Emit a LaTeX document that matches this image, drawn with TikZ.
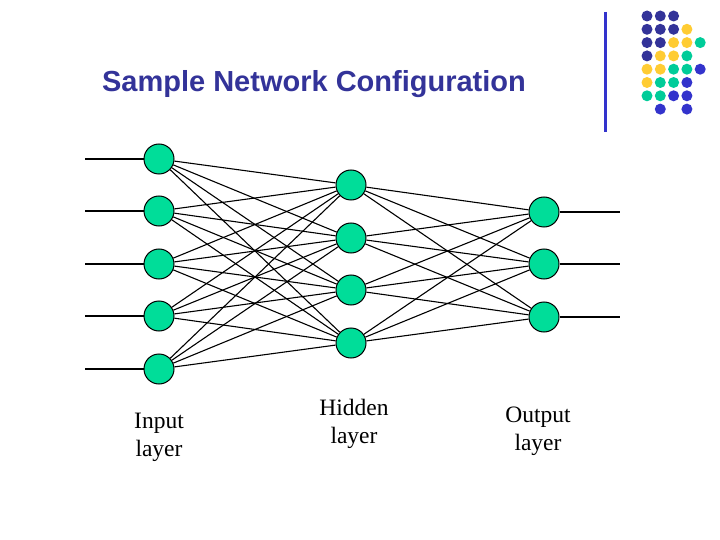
\documentclass[tikz,border=0pt]{standalone}
\usepackage{fontspec}
\setmainfont{Liberation Serif}
\newfontfamily\sansf{Liberation Sans}
\definecolor{navy}{HTML}{333399}
\definecolor{dblue}{HTML}{3333CC}
\definecolor{gold}{HTML}{FFCC33}
\definecolor{teal}{HTML}{00CC99}
\definecolor{nodeg}{HTML}{00DD99}
\begin{document}
\begin{tikzpicture}[x=1pt,y=-1pt,
  neuron/.style={circle,draw=black,fill=nodeg,minimum size=30pt,inner sep=0pt,line width=1pt},
  edge/.style={black,line width=1.1pt},
  lbl/.style={font=\fontsize{23.5}{28}\selectfont,align=center},
  dot/.style={circle,inner sep=0pt,minimum size=11pt}]
\useasboundingbox[fill=white] (0,0) rectangle (720,540);
\node[font=\sansf\bfseries\fontsize{29}{32}\selectfont,text=navy] (title) at (314,84) {Sample Network Configuration};
\draw[dblue,line width=3pt] (605,12) coordinate (v1) -- (605,132) coordinate (v2);
\def\nn{none}
\foreach \r/\row in {1/{navy,navy,navy,none,none},2/{navy,navy,navy,gold,none},3/{navy,navy,gold,gold,teal},4/{navy,gold,gold,teal,none},5/{gold,gold,teal,teal,dblue},6/{gold,teal,teal,dblue,none},7/{teal,teal,dblue,dblue,none},8/{none,dblue,none,dblue,none}}{
  \foreach \c [count=\i] in \row {
    \ifx\c\nn\else
      \node[dot,fill=\c] (d\r\i) at ({647+13.3*(\i-1)},{16+13.3*(\r-1)}) {};
    \fi
  }
}
\foreach \y [count=\i] in {159,211,264,316,369}{
  \node[neuron] (i\i) at (159,\y) {};
  \coordinate (a\i) at (85,\y);
  \draw[edge] (a\i) -- (i\i);
}
\foreach \y [count=\i] in {185,238,290,343}{
  \node[neuron] (h\i) at (351,\y) {};
}
\foreach \y [count=\i] in {212,264,317}{
  \node[neuron] (o\i) at (544,\y) {};
  \coordinate (b\i) at (620,\y);
  \draw[edge] (o\i) -- (b\i);
}
\foreach \i in {1,...,5}{\foreach \j in {1,...,4}{\draw[edge] (i\i) -- (h\j);}}
\foreach \j in {1,...,4}{\foreach \k in {1,...,3}{\draw[edge] (h\j) -- (o\k);}}
\node[lbl] (l1) at (159,437) {Input\\layer};
\node[lbl] (l2) at (354,424) {Hidden\\layer};
\node[lbl] (l3) at (538,431) {Output\\layer};
\end{tikzpicture}
\end{document}
